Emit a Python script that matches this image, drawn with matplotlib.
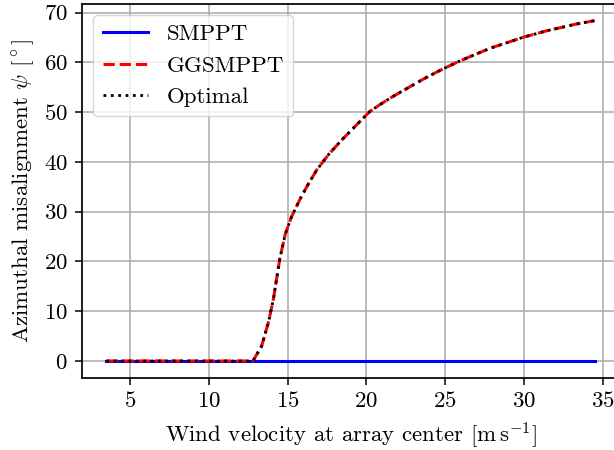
import matplotlib
matplotlib.use("Agg")
import matplotlib.pyplot as plt

plt.rcParams['font.family'] = ['cmr10', 'DejaVu Serif']
plt.rcParams['mathtext.fontset'] = 'cm'
plt.rcParams['axes.formatter.use_mathtext'] = True
plt.rcParams['font.size'] = 16.5
plt.rcParams['xtick.major.size'] = 5.2
plt.rcParams['ytick.major.size'] = 5.2
plt.rcParams['xtick.major.width'] = 1.1
plt.rcParams['ytick.major.width'] = 1.1
plt.rcParams['xtick.major.pad'] = 4.2
plt.rcParams['ytick.major.pad'] = 5

# wind speed at array center [m/s]
wind = [3.5, 5, 7, 9, 11, 12.8, 13.35, 13.8, 14.1, 14.3, 14.5, 14.85, 15.25,
        15.8, 16.3, 16.85, 17.6, 18.4, 19.3, 20.2, 20.8, 21.6, 22.7, 23.7,
        24.8, 25.8, 26.9, 27.9, 30, 31.5, 33.3, 34.5]
# misalignment angle psi [deg]
smppt = [0] * len(wind)
optimal = [0, 0, 0, 0, 0, 0, 3.0, 8.0, 12.5, 16.5, 20.5, 25.5, 29.0,
           32.6, 35.5, 38.4, 41.5, 44.3, 47.2, 50.1, 51.4, 53.0, 55.0, 56.8,
           58.6, 60.1, 61.6, 62.9, 65.1, 66.4, 67.7, 68.4]
ggsmppt = list(optimal)

fig = plt.figure(figsize=(6.14, 4.5), dpi=100)
ax = fig.add_axes([0.1336, 0.16, 0.875, 0.832])

ax.plot(wind, smppt, color='blue', lw=2.2, label='SMPPT')
ax.plot(wind, ggsmppt, color='red', ls='--', lw=2.2, label='GGSMPPT')
ax.plot(wind, optimal, color='black', ls=':', lw=2.0, label='Optimal')

ax.set_xticks([5, 10, 15, 20, 25, 30, 35])
ax.set_yticks([0, 10, 20, 30, 40, 50, 60, 70])
ax.grid(True, color='#b0b0b0', lw=1.2)
ax.set_axisbelow(True)
for s in ax.spines.values():
    s.set_linewidth(1.25)

ax.set_xlabel(r'Wind velocity at array center [$\mathrm{m\,s^{-1}}$]', labelpad=7)
ax.set_ylabel(r'Azimuthal misalignment $\psi$ [$^\circ$]', labelpad=5)
ax.legend(loc='upper left')

fig.savefig('out.png', dpi=100)
